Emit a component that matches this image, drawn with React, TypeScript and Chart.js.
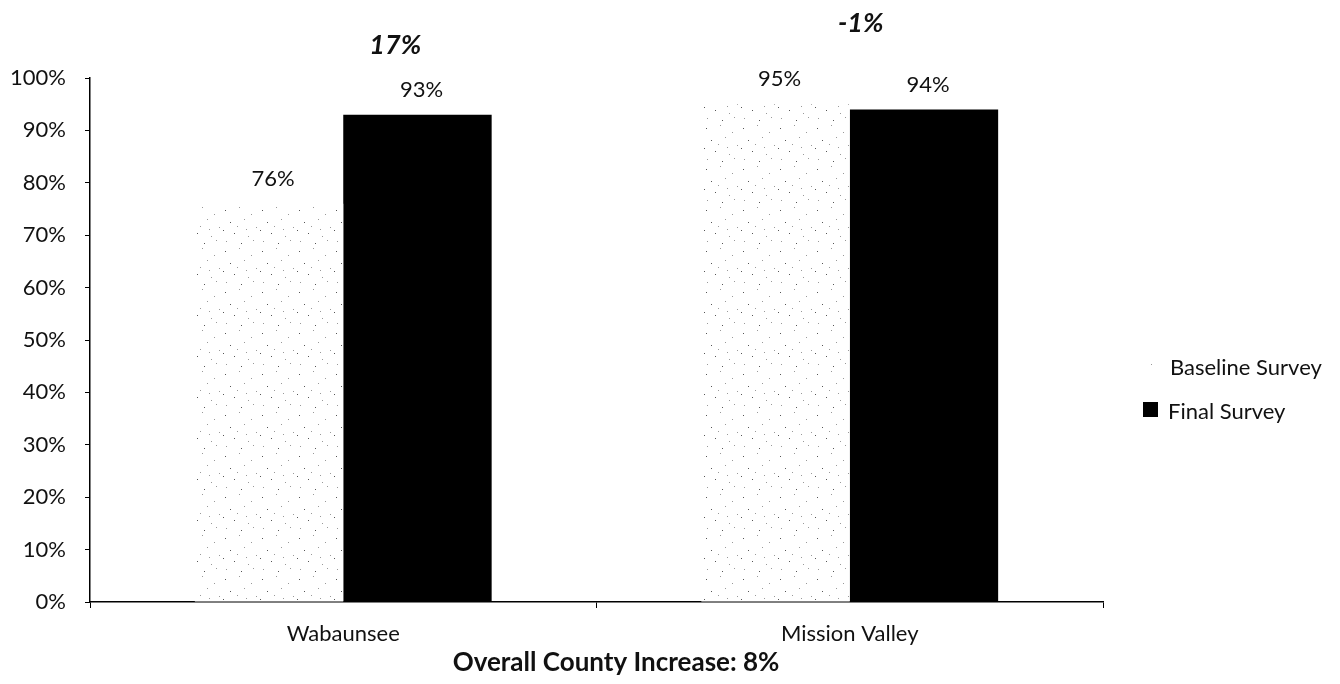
import React, { useEffect, useRef } from "react";
import { Chart, registerables } from "chart.js";

Chart.register(...registerables);

const categories = ["Wabaunsee", "Mission Valley"];
const baselineValues = [76, 95];
const finalValues = [93, 94];
const changeLabels = ["17%", "-1%"];
const seriesNames = ["Baseline Survey", "Final Survey"];
const footerText = "Overall County Increase: 8%";

const FONT = "Lato, 'Open Sans', sans-serif";

function makeStipple(): CanvasPattern | string {
  const c = document.createElement("canvas");
  c.width = 37;
  c.height = 41;
  const ctx = c.getContext("2d");
  if (!ctx) return "#eee";
  ctx.fillStyle = "#ffffff";
  ctx.fillRect(0, 0, 37, 41);
  const dots = [
    [3, 5], [17, 2], [29, 9], [8, 17], [22, 14], [34, 22], [12, 28],
    [26, 31], [4, 36], [19, 38], [31, 35], [15, 21], [1, 25], [24, 24],
  ];
  dots.forEach(([x, y], i) => {
    ctx.fillStyle = i % 3 === 0 ? "#555" : "#999";
    ctx.fillRect(x, y, 1, 1);
  });
  return ctx.createPattern(c, "repeat") || "#eee";
}

export default function App() {
  const ref = useRef<HTMLCanvasElement | null>(null);

  useEffect(() => {
    const canvas = ref.current;
    if (!canvas) return;
    const stipple = makeStipple();

    const overlay = {
      id: "overlay",
      afterDatasetsDraw(chart: any) {
        const ctx = chart.ctx;
        const yS = chart.scales.y;
        const xS = chart.scales.x;
        ctx.save();
        // value labels
        ctx.font = `22px ${FONT}`;
        ctx.fillStyle = "#111";
        ctx.textAlign = "center";
        ctx.textBaseline = "middle";
        chart.data.datasets.forEach((ds: any, di: number) => {
          const meta = chart.getDatasetMeta(di);
          meta.data.forEach((bar: any, i: number) => {
            ctx.fillText(ds.data[i] + "%", bar.x + 4, bar.y - 25);
          });
        });
        // change labels
        ctx.font = `italic bold 27px ${FONT}`;
        const changeY = [106.3, 110.5];
        const changeDx = [52, 11];
        changeLabels.forEach((t, i) => {
          ctx.fillText(t, xS.getPixelForValue(i) + changeDx[i], yS.getPixelForValue(changeY[i]));
        });
        // footer
        ctx.font = `bold 26px ${FONT}`;
        ctx.fillText(footerText, 616, 663);
        // legend
        ctx.textAlign = "left";
        ctx.font = `22px ${FONT}`;
        ctx.fillStyle = stipple as any;
        ctx.fillRect(1146, 361, 13, 13);
        ctx.fillStyle = "#111";
        ctx.fillText(seriesNames[0], 1170, 368);
        ctx.fillStyle = "#000";
        ctx.fillRect(1143, 402, 15, 15);
        ctx.fillStyle = "#111";
        ctx.fillText(seriesNames[1], 1168, 412);
        ctx.restore();
      },
    };

    const chart = new Chart(canvas, {
      type: "bar",
      data: {
        labels: categories,
        datasets: [
          {
            label: seriesNames[0],
            data: baselineValues,
            backgroundColor: stipple as any,
            borderWidth: 0,
            barPercentage: 1,
            categoryPercentage: 0.586,
          },
          {
            label: seriesNames[1],
            data: finalValues,
            backgroundColor: "#000000",
            borderWidth: 0,
            barPercentage: 1,
            categoryPercentage: 0.586,
          },
        ],
      },
      options: {
        responsive: false,
        animation: false,
        layout: { padding: { top: 78, right: 237, left: 0, bottom: 0 } },
        plugins: {
          legend: { display: false },
          tooltip: { enabled: false },
          title: { display: false },
        },
        scales: {
          x: {
            afterFit(s: any) {
              s.height = 82;
            },
            grid: {
              offset: true,
              drawOnChartArea: false,
              color: "#000",
              tickLength: 6,
            },
            border: { color: "#000", width: 1.5 },
            ticks: {
              color: "#111",
              font: { family: FONT, size: 22 },
              padding: 13,
            },
          },
          y: {
            min: 0,
            max: 100,
            afterFit(s: any) {
              s.width = 90;
            },
            grid: {
              drawOnChartArea: false,
              color: "#000",
              tickLength: 5,
            },
            border: { color: "#000", width: 1.5 },
            ticks: {
              stepSize: 10,
              color: "#111",
              font: { family: FONT, size: 22 },
              padding: 19,
              callback: (v: any) => v + "%",
            },
          },
        },
      },
      plugins: [overlay],
    });
    return () => chart.destroy();
  }, []);

  return (
    <div style={{ position: "absolute", left: 0, top: 0, width: 1340, height: 684, background: "#fff" }}>
      <canvas ref={ref} width={1340} height={684} style={{ display: "block" }} />
    </div>
  );
}
